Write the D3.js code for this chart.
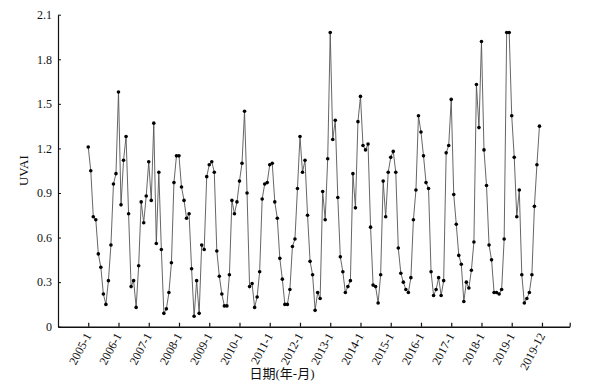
<!DOCTYPE html>
<html>
<head>
<meta charset="utf-8">
<script src="https://cdn.jsdelivr.net/npm/d3@7"></script>
<style>
  body { margin: 0; background: #fff; }
  svg text { font-family: "Liberation Serif", "Times New Roman", serif; fill: #111; }
</style>
</head>
<body>
<div id="chart"></div>
<script>
// Monthly UVAI, 2005-1 .. 2019-12
const years = d3.range(2005, 2020);
const uvai2005 = [1.21, 1.05, 0.74, 0.72, 0.49, 0.40, 0.22, 0.15, 0.31, 0.55, 0.96, 1.03];
const uvai2006 = [1.58, 0.82, 1.12, 1.28, 0.76, 0.27, 0.31, 0.13, 0.41, 0.84, 0.70, 0.88];
const uvai2007 = [1.11, 0.85, 1.37, 0.56, 1.04, 0.52, 0.09, 0.12, 0.23, 0.43, 0.97, 1.15];
const uvai2008 = [1.15, 0.94, 0.85, 0.73, 0.76, 0.39, 0.07, 0.31, 0.09, 0.55, 0.52, 1.01];
const uvai2009 = [1.09, 1.11, 1.04, 0.51, 0.34, 0.22, 0.14, 0.14, 0.35, 0.85, 0.76, 0.84];
const uvai2010 = [0.98, 1.10, 1.45, 0.90, 0.27, 0.29, 0.13, 0.20, 0.37, 0.86, 0.96, 0.97];
const uvai2011 = [1.09, 1.10, 0.84, 0.73, 0.46, 0.32, 0.15, 0.15, 0.25, 0.54, 0.59, 0.93];
const uvai2012 = [1.28, 1.04, 1.12, 0.75, 0.44, 0.35, 0.11, 0.23, 0.19, 0.91, 0.72, 1.13];
const uvai2013 = [1.98, 1.26, 1.39, 0.87, 0.47, 0.37, 0.23, 0.27, 0.31, 1.03, 0.80, 1.38];
const uvai2014 = [1.55, 1.22, 1.19, 1.23, 0.67, 0.28, 0.27, 0.16, 0.35, 0.98, 0.74, 1.04];
const uvai2015 = [1.14, 1.18, 1.04, 0.53, 0.36, 0.30, 0.25, 0.23, 0.33, 0.72, 0.92, 1.42];
const uvai2016 = [1.31, 1.15, 0.97, 0.93, 0.37, 0.21, 0.25, 0.33, 0.21, 0.31, 1.17, 1.22];
const uvai2017 = [1.53, 0.89, 0.69, 0.48, 0.42, 0.17, 0.30, 0.26, 0.38, 0.57, 1.63, 1.34];
const uvai2018 = [1.92, 1.19, 0.95, 0.55, 0.45, 0.23, 0.23, 0.22, 0.25, 0.59, 1.98, 1.98];
const uvai2019 = [1.42, 1.14, 0.74, 0.92, 0.35, 0.16, 0.19, 0.23, 0.35, 0.81, 1.09, 1.35];

const yTicks = [0, 0.3, 0.6, 0.9, 1.2, 1.5, 1.8, 2.1];
const yTickLabels = ["0", "0.3", "0.6", "0.9", "1.2", "1.5", "1.8", "2.1"];
const xTickLabels = ["2005-1", "2006-1", "2007-1", "2008-1", "2009-1", "2010-1", "2011-1",
  "2012-1", "2013-1", "2014-1", "2015-1", "2016-1", "2017-1", "2018-1", "2019-1", "2019-12", ""];

const series = [uvai2005, uvai2006, uvai2007, uvai2008, uvai2009, uvai2010, uvai2011, uvai2012,
  uvai2013, uvai2014, uvai2015, uvai2016, uvai2017, uvai2018, uvai2019];

// flatten into month index (0 = 2005-1)
const data = [];
series.forEach((arr, yi) => {
  arr.forEach((v, m) => data.push({ i: yi * 12 + m, year: years[yi], month: m + 1, value: v }));
});

const width = 616;
const height = 387;

const svg = d3.select("#chart")
  .append("svg")
  .attr("width", width)
  .attr("height", height);

// scales
const xScale = d3.scaleLinear()
  .domain([-12, 191])
  .range([58, 569.7]);

const yScale = d3.scaleLinear()
  .domain([0, 2.1])
  .range([326.7, 14.7]);

const xTickVals = d3.range(0, 181, 12).concat([191]);

// x axis
const xAxis = svg.append("g")
  .attr("class", "x-axis")
  .attr("transform", `translate(0,${yScale(0)})`)
  .call(d3.axisBottom(xScale)
    .tickValues(xTickVals)
    .tickSize(-4)
    .tickSizeOuter(0)
    .tickFormat((d, i) => xTickLabels[i]));

xAxis.select(".domain").attr("stroke", "#111").attr("stroke-width", 1.4);
xAxis.selectAll(".tick line").attr("stroke", "#111").attr("stroke-width", 1.2);
xAxis.selectAll("text")
  .attr("font-size", 12)
  .style("text-anchor", "end")
  .attr("x", 0)
  .attr("y", 0)
  .attr("dx", 0)
  .attr("dy", 0)
  .attr("transform", "translate(3,9) rotate(-62)");

// y axis
const yAxis = svg.append("g")
  .attr("class", "y-axis")
  .attr("transform", `translate(${xScale(-12)},0)`)
  .call(d3.axisLeft(yScale)
    .tickValues(yTicks)
    .tickSize(-3)
    .tickSizeOuter(0)
    .tickFormat((d, i) => yTickLabels[i]));

yAxis.select(".domain").attr("stroke", "#111").attr("stroke-width", 1.2);
yAxis.selectAll(".tick line").attr("stroke", "#111").attr("stroke-width", 1);
yAxis.selectAll("text")
  .attr("font-size", 12)
  .attr("x", -6);

// line
const line = d3.line()
  .x((d) => xScale(d.i))
  .y((d) => yScale(d.value));

svg.append("path")
  .datum(data)
  .attr("fill", "none")
  .attr("stroke", "#555")
  .attr("stroke-width", 0.9)
  .attr("d", line);

// points
svg.selectAll(".pt")
  .data(data)
  .enter()
  .append("circle")
  .attr("class", "pt")
  .attr("cx", (d) => xScale(d.i))
  .attr("cy", (d) => yScale(d.value))
  .attr("r", 1.8)
  .attr("fill", "#000");

// axis titles
svg.append("text")
  .attr("x", 0)
  .attr("y", 0)
  .attr("transform", `translate(28,${(yScale(0) + yScale(2.1)) / 2}) rotate(-90)`)
  .attr("text-anchor", "middle")
  .attr("font-size", 13)
  .text("UVAI");

svg.append("text")
  .attr("x", 282)
  .attr("y", 378)
  .attr("text-anchor", "middle")
  .attr("font-size", 13)
  .style("font-family", "'Liberation Serif', 'Noto Sans CJK SC', serif")
  .text("日期(年-月)");
</script>
</body>
</html>
